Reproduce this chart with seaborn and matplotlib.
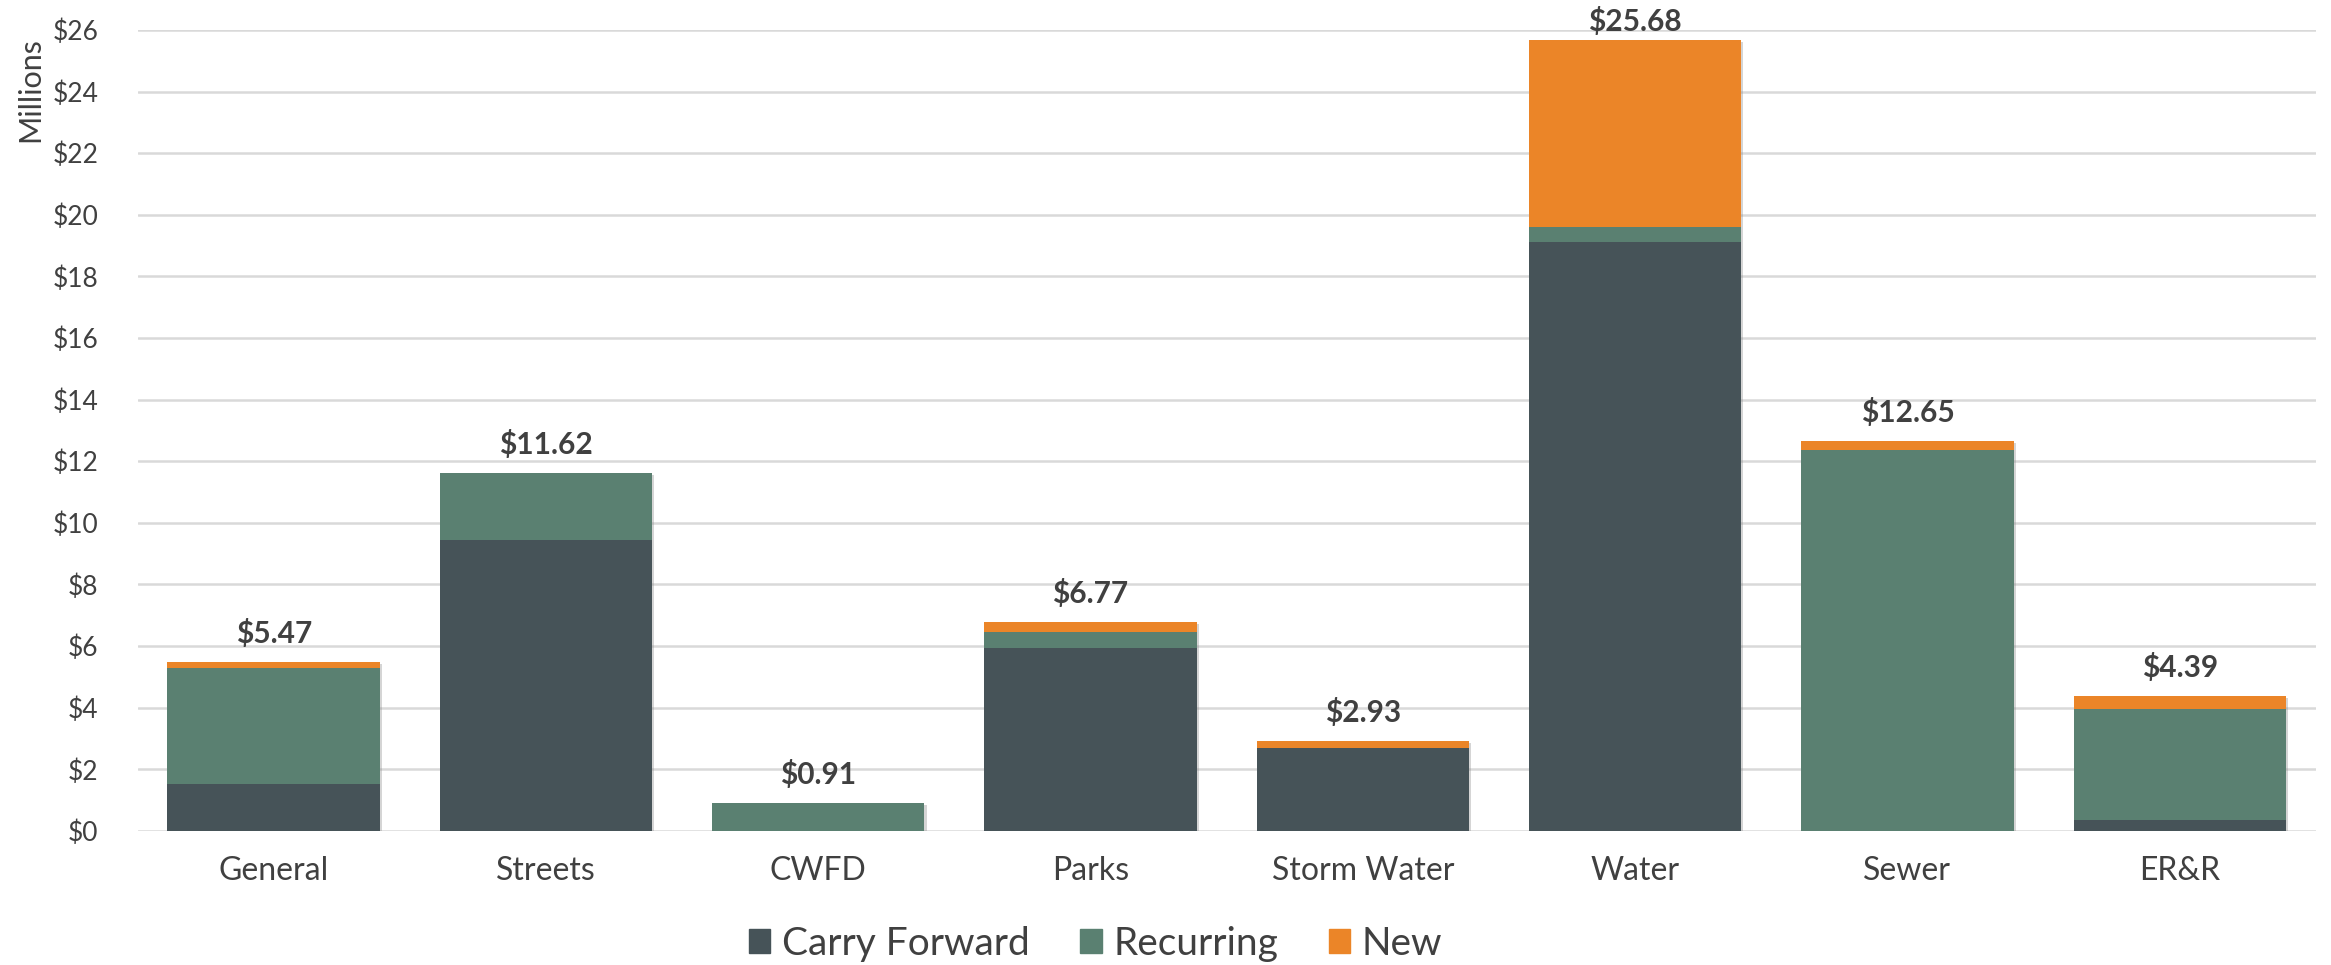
import matplotlib
matplotlib.use("Agg")
import matplotlib.pyplot as plt
import seaborn as sns
import numpy as np
from matplotlib.patches import Patch
from matplotlib import patheffects as pe

categories = ["General", "Streets", "CWFD", "Parks", "Storm Water", "Water", "Sewer", "ER&R"]
carry_forward = [1.52, 9.45, 0.0, 5.93, 2.70, 19.10, 0.0, 0.36]
recurring = [3.78, 2.17, 0.91, 0.53, 0.0, 0.50, 12.35, 3.58]
new = [0.17, 0.0, 0.0, 0.31, 0.23, 6.08, 0.30, 0.45]
total_labels = ["$5.47", "$11.62", "$0.91", "$6.77", "$2.93", "$25.68", "$12.65", "$4.39"]

c_carry = "#465358"
c_rec = "#5A8071"
c_new = "#EB8528"
text_c = "#404040"

sns.set_style("white")
plt.rcParams["font.family"] = ["Lato", "DejaVu Sans"]

cf = np.array(carry_forward)
cr = cf + np.array(recurring)
tot = cr + np.array(new)

fig = plt.figure(figsize=(23.31, 9.65), dpi=100)
ax = fig.add_axes([0.059, 0.139, 0.9345, 0.830])

# stacked bars drawn back to front as cumulative totals
sns.barplot(x=categories, y=tot, color=c_new, saturation=1, width=0.78, ax=ax, zorder=3)
n = len(ax.patches)
sns.barplot(x=categories, y=cr, color=c_rec, saturation=1, width=0.78, ax=ax, zorder=4)
sns.barplot(x=categories, y=cf, color=c_carry, saturation=1, width=0.78, ax=ax, zorder=5)
for k, p in enumerate(ax.patches):
    p.set_edgecolor("none")
    if k < n:
        p.set_path_effects([pe.SimplePatchShadow(offset=(1.5, -1.5), shadow_rgbFace="#888888", alpha=0.35),
                            pe.Normal()])

ax.set_ylim(0, 26)
ax.set_xlim(-0.5, len(categories) - 0.5)
ax.set_yticks(range(0, 27, 2))
ax.set_yticklabels([f"${v}" for v in range(0, 27, 2)], fontsize=19, color=text_c)
ax.tick_params(axis="x", labelsize=23, colors=text_c, pad=18, length=0)
ax.tick_params(axis="y", length=0, pad=28)
ax.grid(axis="y", color="#D9D9D9", linewidth=1.8, zorder=0)
ax.set_axisbelow(True)
sns.despine(ax=ax, left=True, bottom=True)
ax.set_xlabel("")
ax.set_ylabel("")

fig.text(0.013, 0.962, "Millions", rotation=90, fontsize=22, color=text_c, ha="center", va="top")

for i, t in enumerate(tot):
    off = 3 if t > 25 else 10
    ax.annotate(total_labels[i], (i, t), xytext=(0, off), textcoords="offset points",
                ha="center", va="bottom", fontsize=21.5, fontweight="bold", color=text_c,
                annotation_clip=False)

handles = [Patch(color=c_carry, label="Carry Forward"),
           Patch(color=c_rec, label="Recurring"),
           Patch(color=c_new, label="New")]
fig.legend(handles=handles, loc="center", bbox_to_anchor=(0.47, 0.022), ncol=3, frameon=False,
           fontsize=28, handlelength=0.55, handleheight=0.55, handletextpad=0.3, columnspacing=1.3,
           labelcolor=text_c)

fig.savefig("out.png", dpi=100)
